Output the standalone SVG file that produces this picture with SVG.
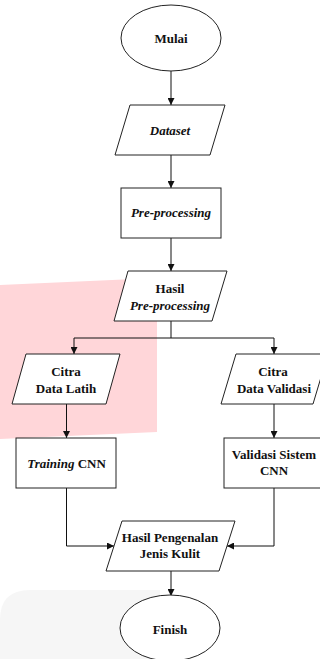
<svg xmlns="http://www.w3.org/2000/svg" width="320" height="659" viewBox="0 0 320 659">
<style>
.s{fill:#fff;stroke:#222;stroke-width:1}
.c{fill:none;stroke:#111;stroke-width:1}
</style>
<defs>
<marker id="a" viewBox="0 0 10 10" refX="10" refY="5" markerWidth="7" markerHeight="7" orient="auto" markerUnits="userSpaceOnUse">
<path d="M0,0 L10,5 L0,10 z" fill="#111"/>
</marker>
</defs>
<rect width="320" height="659" fill="#fff"/>
<polygon points="0,285 157,278 157,432 0,439" fill="#ffd6d9"/>
<path d="M0,620 Q0,590 30,590 L160,590 L160,659 L0,659 z" fill="#f6f6f6"/>
<g id="connectors">
<path class="c" d="M171,71 V105" marker-end="url(#a)"/>
<path class="c" d="M171,155 V188" marker-end="url(#a)"/>
<path class="c" d="M171,238 V271" marker-end="url(#a)"/>
<path class="c" d="M171,321 V338 H74 V354" marker-end="url(#a)"/>
<path class="c" d="M171,338 H274 V354" marker-end="url(#a)"/>
<path class="c" d="M66.5,404 V438" marker-end="url(#a)"/>
<path class="c" d="M274,404 V438" marker-end="url(#a)"/>
<path class="c" d="M66.5,488 V546 H114" marker-end="url(#a)"/>
<path class="c" d="M274,488 V546 H227" marker-end="url(#a)"/>
<path class="c" d="M171,571 V596" marker-end="url(#a)"/>
</g>
<g id="mulai">
<ellipse class="s" cx="171" cy="38" rx="50" ry="33"/>
<text x="171" y="43" font-family="Liberation Serif" font-weight="bold" font-size="13" fill="#111" text-anchor="middle">Mulai</text>
</g>
<g id="dataset">
<polygon class="s" points="130,105 225,105 210,155 115,155"/>
<text x="170" y="135" font-family="Liberation Serif" font-weight="bold" font-style="italic" font-size="13" fill="#111" text-anchor="middle">Dataset</text>
</g>
<g id="preprocessing">
<rect class="s" x="121" y="188" width="100" height="50"/>
<text x="171" y="217" font-family="Liberation Serif" font-weight="bold" font-style="italic" font-size="13" fill="#111" text-anchor="middle">Pre-processing</text>
</g>
<g id="hasil-pre">
<polygon class="s" points="128,271 227,271 212,321 114,321"/>
<text x="170" y="293" font-family="Liberation Serif" font-weight="bold" font-size="13" fill="#111" text-anchor="middle">Hasil</text>
<text x="170" y="310" font-family="Liberation Serif" font-weight="bold" font-style="italic" font-size="13" fill="#111" text-anchor="middle">Pre-processing</text>
</g>
<g id="citra-latih">
<polygon class="s" points="26,354 120,354 106,404 12,404"/>
<text x="66" y="376" font-family="Liberation Serif" font-weight="bold" font-size="13" fill="#111" text-anchor="middle">Citra</text>
<text x="66" y="393" font-family="Liberation Serif" font-weight="bold" font-size="13" fill="#111" text-anchor="middle">Data Latih</text>
</g>
<g id="citra-validasi">
<polygon class="s" points="236,354 328,354 313,404 221,404"/>
<text x="273" y="376" font-family="Liberation Serif" font-weight="bold" font-size="13" fill="#111" text-anchor="middle">Citra</text>
<text x="274" y="393" font-family="Liberation Serif" font-weight="bold" font-size="13" fill="#111" text-anchor="middle">Data Validasi</text>
</g>
<g id="training">
<rect class="s" x="16" y="438" width="100" height="50"/>
<text x="66.5" y="468" font-family="Liberation Serif" font-weight="bold" font-size="13" fill="#111" text-anchor="middle"><tspan font-style="italic">Training</tspan> CNN</text>
</g>
<g id="validasi">
<rect class="s" x="224" y="438" width="100" height="50"/>
<text x="274" y="459" font-family="Liberation Serif" font-weight="bold" font-size="13" fill="#111" text-anchor="middle">Validasi Sistem</text>
<text x="274" y="475" font-family="Liberation Serif" font-weight="bold" font-size="13" fill="#111" text-anchor="middle">CNN</text>
</g>
<g id="hasil-pengenalan">
<polygon class="s" points="122,521 235,521 219,571 106,571"/>
<text x="170" y="542" font-family="Liberation Serif" font-weight="bold" font-size="13" fill="#111" text-anchor="middle">Hasil Pengenalan</text>
<text x="170" y="558" font-family="Liberation Serif" font-weight="bold" font-size="13" fill="#111" text-anchor="middle">Jenis Kulit</text>
</g>
<g id="finish">
<ellipse class="s" cx="170" cy="628" rx="50" ry="33"/>
<text x="170" y="634" font-family="Liberation Serif" font-weight="bold" font-size="13" fill="#111" text-anchor="middle">Finish</text>
</g>
</svg>
